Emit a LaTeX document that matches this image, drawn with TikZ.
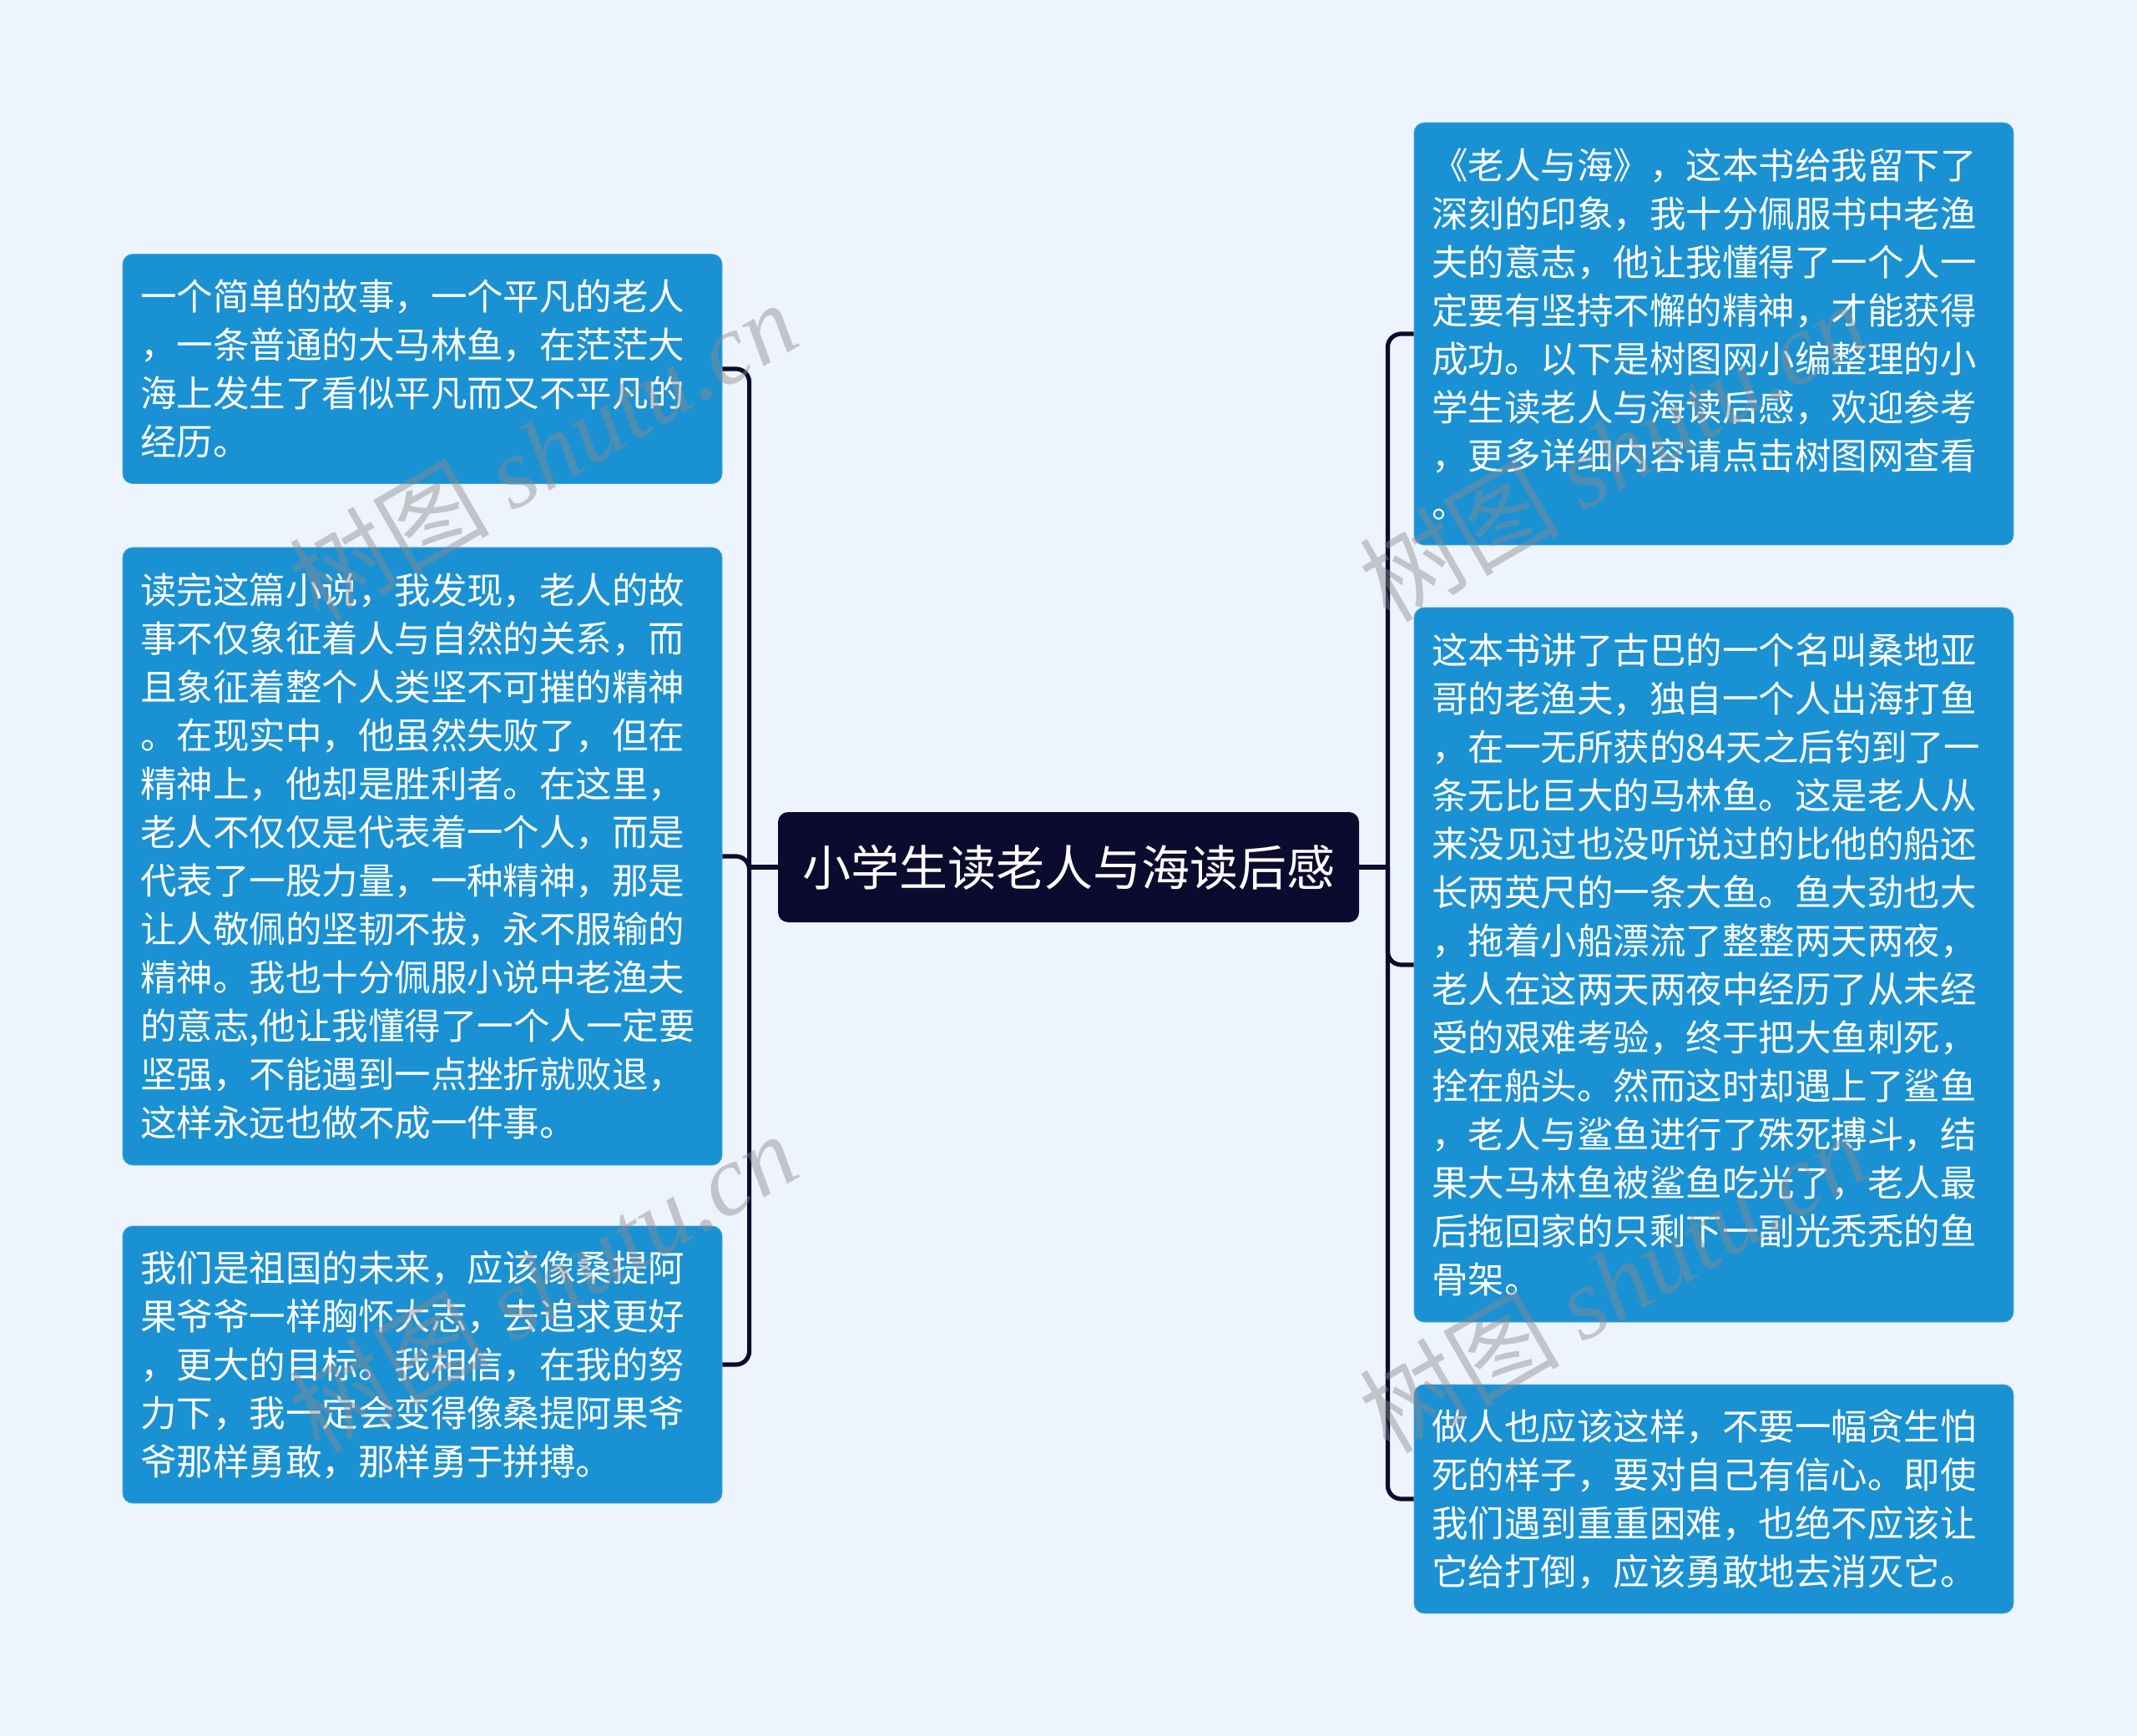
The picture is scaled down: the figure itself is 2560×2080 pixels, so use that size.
\documentclass[tikz,border=0pt]{standalone}
\usepackage{fontspec}
\newfontfamily\cjk{Noto Sans CJK SC}
\newfontfamily\wmserif{Liberation Serif}
\definecolor{bgcol}{HTML}{EEF4FD}
\definecolor{leafcol}{HTML}{1A91D3}
\definecolor{rootcol}{HTML}{0C0A2E}
\begin{document}
\begin{tikzpicture}[x=0.5pt,y=-0.5pt]
	\tikzstyle{leaf}=[draw=leafcol!80!white,fill=leafcol,rounded corners=6pt,text=white,align=left,text width=338pt,inner xsep=10.5pt,inner ysep=0pt,font=\cjk\fontsize{21.75pt}{29pt}\selectfont]
	\tikzstyle{hub}=[fill=rootcol,rounded corners=6pt,text=white,minimum width=348pt,minimum height=66pt,font=\cjk\fontsize{29pt}{34pt}\selectfont]
	\tikzstyle{link}=[draw=rootcol,line width=2.6pt,rounded corners=8pt]
	\tikzstyle{wmark}=[text=black!45,opacity=0.45,font=\cjk\fontsize{60pt}{62pt}\selectfont]

	\fill[bgcol] (0,0) rectangle (2560,2080);
	\useasboundingbox (0,0) rectangle (2560,2080);

	\node[hub](root) at (1280,1039){小学生读老人与海读后感};

	% left side
	\node[leaf,minimum height=137.5pt](l1) at (506,442){一个简单的故事，一个平凡的老人\\，一条普通的大马林鱼，在茫茫大\\海上发生了看似平凡而又不平凡的\\经历。};
	\node[leaf,minimum height=370pt](l2) at (506,1026){读完这篇小说，我发现，老人的故\\事不仅象征着人与自然的关系，而\\且象征着整个人类坚不可摧的精神\\。在现实中，他虽然失败了，但在\\精神上，他却是胜利者。在这里，\\老人不仅仅是代表着一个人，而是\\代表了一股力量，一种精神，那是\\让人敬佩的坚韧不拔，永不服输的\\精神。我也十分佩服小说中老渔夫\\的意志,他让我懂得了一个人一定要\\坚强，不能遇到一点挫折就败退，\\这样永远也做不成一件事。};
	\node[leaf,minimum height=166pt](l3) at (506,1635){我们是祖国的未来，应该像桑提阿\\果爷爷一样胸怀大志，去追求更好\\，更大的目标。我相信，在我的努\\力下，我一定会变得像桑提阿果爷\\爷那样勇敢，那样勇于拼搏。};

	% right side
	\node[leaf,minimum height=253pt](r1) at (2053,400){《老人与海》，这本书给我留下了\\深刻的印象，我十分佩服书中老渔\\夫的意志，他让我懂得了一个人一\\定要有坚持不懈的精神，才能获得\\成功。以下是树图网小编整理的小\\学生读老人与海读后感，欢迎参考\\，更多详细内容请点击树图网查看\\。};
	\node[leaf,minimum height=428pt](r2) at (2053,1156){这本书讲了古巴的一个名叫桑地亚\\哥的老渔夫，独自一个人出海打鱼\\，在一无所获的84天之后钓到了一\\条无比巨大的马林鱼。这是老人从\\来没见过也没听说过的比他的船还\\长两英尺的一条大鱼。鱼大劲也大\\，拖着小船漂流了整整两天两夜，\\老人在这两天两夜中经历了从未经\\受的艰难考验，终于把大鱼刺死，\\拴在船头。然而这时却遇上了鲨鱼\\，老人与鲨鱼进行了殊死搏斗，结\\果大马林鱼被鲨鱼吃光了，老人最\\后拖回家的只剩下一副光秃秃的鱼\\骨架。};
	\node[leaf,minimum height=137pt](r3) at (2053,1796){做人也应该这样，不要一幅贪生怕\\死的样子，要对自己有信心。即使\\我们遇到重重困难，也绝不应该让\\它给打倒，应该勇敢地去消灭它。};

	% connectors
	\draw[link] (root.west) -- ++(-34,0) coordinate (lj);
	\draw[link] (root.east) -- ++(34,0) coordinate (rj);
	\foreach \c in {l1,l2,l3}
		\draw[link] (lj) |- (\c.east);
	\foreach \c in {r1,r2,r3}
		\draw[link] (rj) |- (\c.west);

	% watermarks
	\node[wmark,rotate=30](w1) at (650,540){树图 {\wmserif\itshape shutu.cn}};
	\node[wmark,rotate=30](w2) at (650,1536){树图 {\wmserif\itshape shutu.cn}};
	\node[wmark,rotate=30](w3) at (1932,540){树图 {\wmserif\itshape shutu.cn}};
	\node[wmark,rotate=30](w4) at (1932,1536){树图 {\wmserif\itshape shutu.cn}};
\end{tikzpicture}
\end{document}
